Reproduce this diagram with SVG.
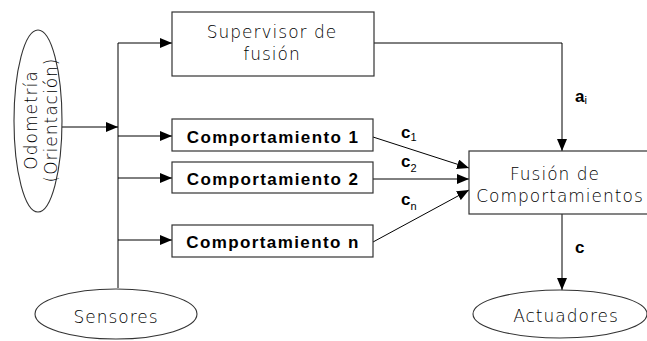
<svg xmlns="http://www.w3.org/2000/svg" width="647" height="341" viewBox="0 0 647 341">
  <defs>
    <marker id="arrow" markerWidth="12" markerHeight="10" refX="12" refY="5" orient="auto" markerUnits="userSpaceOnUse">
      <path d="M0,0 L12,5 L0,10 Z" fill="#000"/>
    </marker>
    <style>
      .box { fill: #fff; stroke: #333; stroke-width: 1.2; }
      .oval { fill: #fff; stroke: #333; stroke-width: 1.1; }
      .thin { font-family: "DejaVu Sans", "Verdana", sans-serif; font-size: 17px; letter-spacing: 1px; fill: #000; text-anchor: middle; font-weight: 300; }
      .bold { font-family: "Liberation Sans", Arial, sans-serif; font-size: 17px; letter-spacing: 1.4px; font-weight: bold; fill: #000; text-anchor: middle; }
      .lbl { font-family: "Liberation Sans", Arial, sans-serif; font-size: 17px; font-weight: bold; fill: #000; }
      .sub { font-size: 11px; font-weight: normal; }
      .wire { fill: none; stroke: #000; stroke-width: 1; }
    </style>
  </defs>
  <rect width="647" height="341" fill="#fff"/>

  <!-- connectors -->
  <g id="connectors">
    <!-- sensor bus -->
    <path class="wire" d="M118,288 V43"/>
    <path class="wire" d="M62,127 H118" marker-end="url(#arrow)"/>
    <path class="wire" d="M118,43 H172" marker-end="url(#arrow)"/>
    <path class="wire" d="M118,136 H172" marker-end="url(#arrow)"/>
    <path class="wire" d="M118,178 H172" marker-end="url(#arrow)"/>
    <path class="wire" d="M118,240 H172" marker-end="url(#arrow)"/>
    <!-- supervisor to fusion -->
    <path class="wire" d="M374,43 H562 V151" marker-end="url(#arrow)"/>
    <!-- behaviours to fusion -->
    <path class="wire" d="M373,137 L469,168" marker-end="url(#arrow)"/>
    <path class="wire" d="M373,179 H469" marker-end="url(#arrow)"/>
    <path class="wire" d="M373,242 L469,190" marker-end="url(#arrow)"/>
    <!-- fusion to actuators -->
    <path class="wire" d="M562,214 V290" marker-end="url(#arrow)"/>
    <!-- labels -->
    <text class="lbl" x="575" y="102">a<tspan class="sub" dy="2">i</tspan></text>
    <text class="lbl" x="401" y="138">c<tspan class="sub" dy="3">1</tspan></text>
    <text class="lbl" x="401" y="167">c<tspan class="sub" dy="5">2</tspan></text>
    <text class="lbl" x="401" y="205">c<tspan class="sub" dy="5">n</tspan></text>
    <text class="lbl" x="575" y="253">c</text>
  </g>

  <g id="odometria">
    <ellipse class="oval" cx="38" cy="121" rx="24" ry="91"/>
    <text class="thin" transform="translate(37,120) rotate(-90)">Odometría</text>
    <text class="thin" transform="translate(57,120) rotate(-90)">(Orientación)</text>
  </g>

  <g id="sensores">
    <ellipse class="oval" cx="116" cy="314" rx="81" ry="25"/>
    <text class="thin" x="116" y="323">Sensores</text>
  </g>

  <g id="supervisor">
    <rect class="box" x="172" y="12" width="202" height="64"/>
    <text class="thin" x="272" y="38">Supervisor de</text>
    <text class="thin" x="272" y="60">fusión</text>
  </g>

  <g id="comportamiento1">
    <rect class="box" x="172" y="119" width="201" height="32"/>
    <text class="bold" x="273" y="143">Comportamiento 1</text>
  </g>

  <g id="comportamiento2">
    <rect class="box" x="172" y="162" width="201" height="31"/>
    <text class="bold" x="273" y="185">Comportamiento 2</text>
  </g>

  <g id="comportamienton">
    <rect class="box" x="172" y="225" width="201" height="32"/>
    <text class="bold" x="273" y="248">Comportamiento n</text>
  </g>

  <g id="fusion">
    <rect class="box" x="469" y="151" width="190" height="63"/>
    <text class="thin" x="555" y="180">Fusión de</text>
    <text class="thin" x="560" y="202">Comportamientos</text>
  </g>

  <g id="actuadores">
    <ellipse class="oval" cx="560" cy="314" rx="87" ry="24"/>
    <text class="thin" x="566" y="322">Actuadores</text>
  </g>
</svg>
